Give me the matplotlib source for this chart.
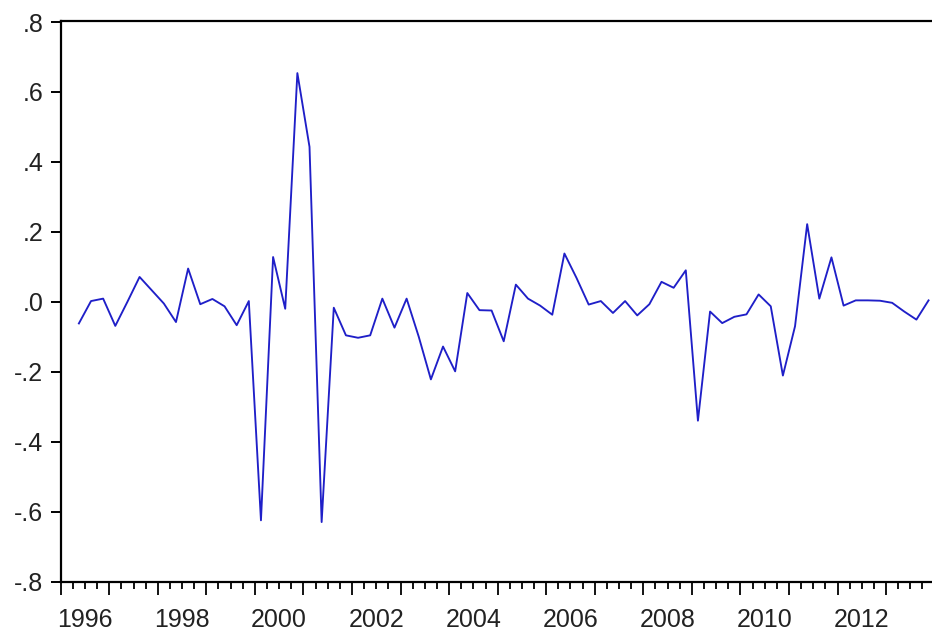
import matplotlib
matplotlib.use("Agg")
import matplotlib.pyplot as plt
import numpy as np

# serie trimestral, 1996Q2 - 2013Q4
anio_inicio = 1996
trim_inicio = 2
valores = [-0.062, 0.002, 0.009,
           -0.069, 0.000, 0.071, 0.033,
           -0.005, -0.058, 0.095, -0.007,
           0.008, -0.013, -0.067, 0.002,
           -0.625, 0.128, -0.020, 0.654,
           0.443, -0.630, -0.017, -0.096,
           -0.103, -0.096, 0.009, -0.074,
           0.009, -0.100, -0.222, -0.128,
           -0.199, 0.025, -0.024, -0.025,
           -0.113, 0.049, 0.009, -0.011,
           -0.037, 0.138, 0.068, -0.008,
           0.002, -0.032, 0.002, -0.039,
           -0.007, 0.057, 0.040, 0.090,
           -0.340, -0.028, -0.061, -0.043,
           -0.036, 0.021, -0.013, -0.211,
           -0.070, 0.222, 0.009, 0.127,
           -0.011, 0.004, 0.004, 0.003,
           -0.003, -0.028, -0.051, 0.004]

anios_etiqueta = [1996, 1998, 2000, 2002, 2004, 2006, 2008, 2010, 2012]
y_ticks = [0.8, 0.6, 0.4, 0.2, 0.0, -0.2, -0.4, -0.6, -0.8]
y_etiquetas = [".8", ".6", ".4", ".2", ".0", "-.2", "-.4", "-.6", "-.8"]

# posicion de cada trimestre = centro del periodo
n = len(valores)
idx = np.arange(n) + (trim_inicio - 1)
x = anio_inicio + idx / 4 + 0.125

plt.rcParams['font.family'] = ['Liberation Sans', 'DejaVu Sans']

fig = plt.figure(figsize=(9.32, 6.34), dpi=100)
ax = fig.add_axes([0.0651, 0.0828, 0.9349, 0.8841])

ax.plot(x, valores, color='#1f1fc8', lw=1.35)

ax.set_xlim(1996, 2013.946)
ax.set_ylim(-0.8, 0.803)

# ticks de año (largos) y trimestres (cortos)
ax.set_xticks(np.arange(1996, 2014))
ax.set_xticks(np.arange(1996, 2014, 0.25), minor=True)
ax.set_xticklabels([])
ax.tick_params(axis='x', which='major', length=9.5, width=1.3, direction='out')
ax.tick_params(axis='x', which='minor', length=5, width=1.3, direction='out')

ax.set_yticks(y_ticks)
ax.set_yticklabels(y_etiquetas, fontsize=18, color='#222222')
ax.tick_params(axis='y', length=7.5, width=1.4, pad=5, direction='out')

sec = ax.secondary_xaxis('bottom')
sec.set_xticks([a + 0.5 for a in anios_etiqueta])
sec.set_xticklabels([str(a) for a in anios_etiqueta], fontsize=18, color='#222222')
sec.tick_params(length=0, pad=19)
sec.spines['bottom'].set_visible(False)

for lado in ['left', 'bottom', 'top']:
    ax.spines[lado].set_linewidth(1.6)
    ax.spines[lado].set_color('black')
ax.spines['right'].set_visible(False)

fig.savefig("out.png", dpi=100)
